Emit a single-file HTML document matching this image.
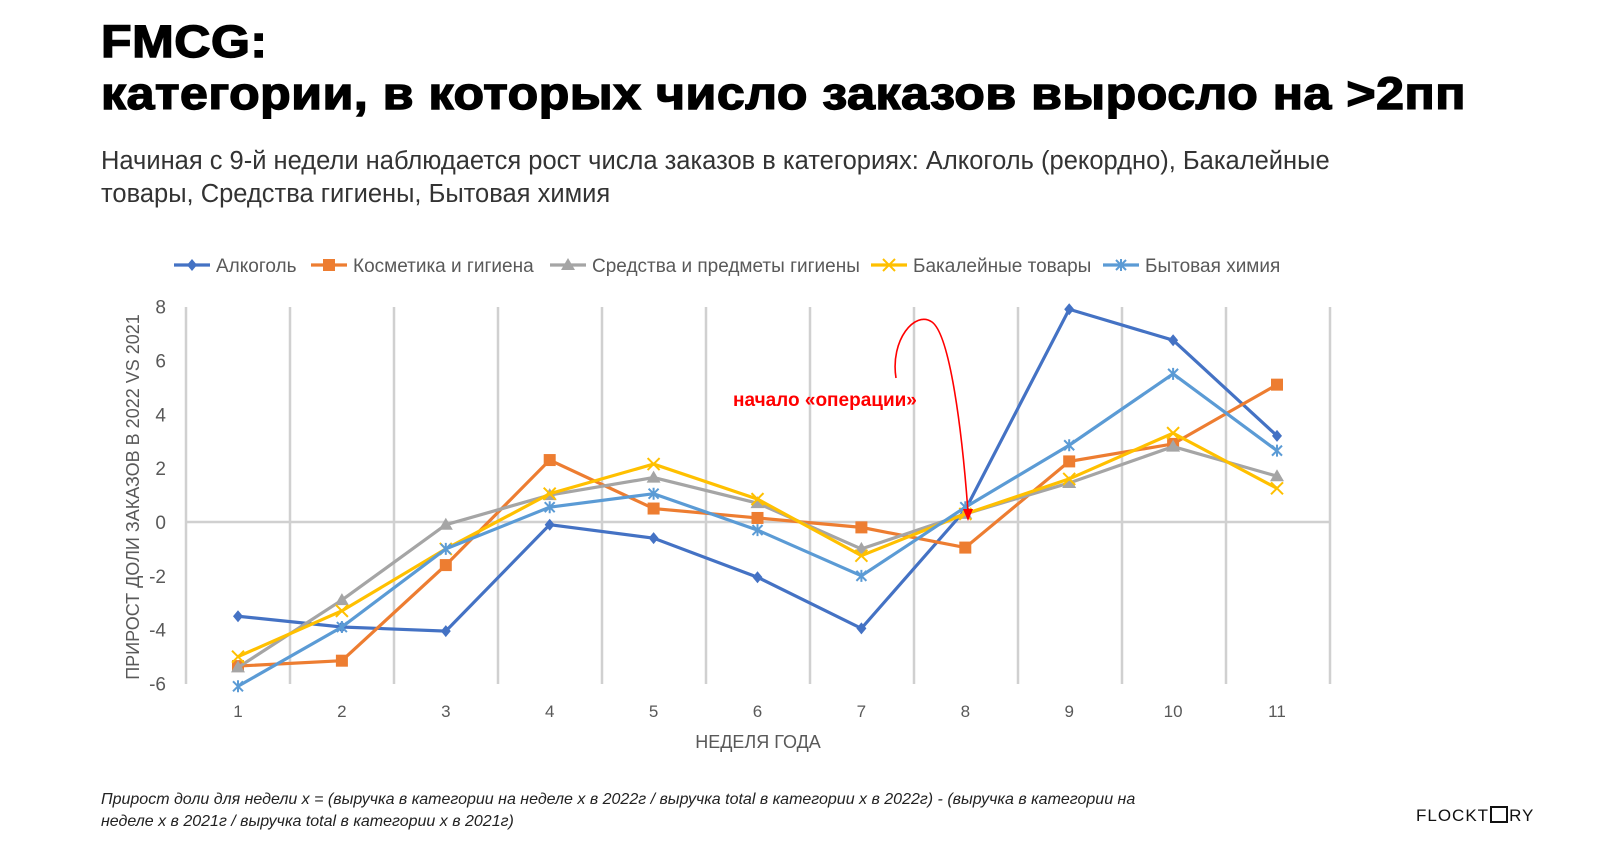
<!DOCTYPE html>
<html><head><meta charset="utf-8"><style>
body{margin:0;width:1600px;height:863px;background:#fff;font-family:"Liberation Sans","Noto Sans CJK SC",sans-serif;overflow:hidden;position:relative}
.t{position:absolute;left:101px;font-weight:900;font-size:45px;color:#000;letter-spacing:0.5px;-webkit-text-stroke:1.4px #000;white-space:nowrap;transform-origin:0 0}
.sub{position:absolute;left:101px;top:145px;font-size:25.5px;color:#333;line-height:33px;width:1240px}
.foot{position:absolute;left:101px;top:789px;font-size:16px;font-style:italic;color:#222;line-height:22px;width:1085px}
.logo{position:absolute;left:1416px;top:806px;font-size:17px;letter-spacing:1px;color:#111}
</style></head><body>
<div class="t" id="t1" style="top:16px">FMCG:</div>
<div class="t" id="t2" style="top:68px">категории, в которых число заказов выросло на &gt;2пп</div>
<div class="sub">Начиная с 9-й недели наблюдается рост числа заказов в категориях: Алкоголь (рекордно), Бакалейные товары, Средства гигиены, Бытовая химия</div>
<svg id="s" width="1600" height="863" style="position:absolute;left:0;top:0" font-family="Liberation Sans, sans-serif"></svg>
<div class="foot">Прирост доли для недели x = (выручка в категории на неделе x в 2022г / выручка total в категории x в 2022г) - (выручка в категории на неделе x в 2021г / выручка total в категории x в 2021г)</div>
<div class="logo">FLOCKT<span style="display:inline-block;width:14px;height:13px;border:2px solid #111;vertical-align:-2px;margin:0 1px"></span>RY</div>
<script>
const t2=document.getElementById('t2'),t1=document.getElementById('t1');
const k=1365/t2.getBoundingClientRect().width;
t2.style.transform=`scaleX(${k})`;t1.style.transform=`scaleX(${k})`;
const s=document.getElementById('s');let h='';
const Y=v=>522-v*26.93,X=i=>238+i*103.9;
for(let i=0;i<12;i++){let x=186+i*104;h+=`<line x1="${x}" y1="307" x2="${x}" y2="684" stroke="#d0d0d0" stroke-width="2.5"/>`;}
h+=`<line x1="186" y1="522" x2="1330" y2="522" stroke="#d0d0d0" stroke-width="2.5"/>`;
[8,6,4,2,0,-2,-4,-6].forEach(v=>h+=`<text x="166" y="${Y(v)+7}" text-anchor="end" font-size="19" fill="#595959">${v}</text>`);
for(let i=0;i<11;i++)h+=`<text x="${X(i)}" y="717" text-anchor="middle" font-size="17" fill="#595959">${i+1}</text>`;
h+=`<text x="758" y="748" text-anchor="middle" font-size="18" fill="#595959">НЕДЕЛЯ ГОДА</text>`;
h+=`<text transform="translate(139,497) rotate(-90)" text-anchor="middle" font-size="18" fill="#595959">ПРИРОСТ ДОЛИ ЗАКАЗОВ В 2022 VS 2021</text>`;
const S=[
['#4472c4','d',[-3.5,-3.9,-4.05,-0.1,-0.6,-2.05,-3.95,0.45,7.9,6.75,3.2]],
['#ed7d31','s',[-5.35,-5.15,-1.6,2.3,0.5,0.15,-0.2,-0.95,2.25,2.9,5.1]],
['#a5a5a5','t',[-5.4,-2.9,-0.1,1.0,1.65,0.7,-1.0,0.3,1.45,2.8,1.7]],
['#ffc000','x',[-5.0,-3.3,-1.0,1.05,2.15,0.85,-1.25,0.3,1.6,3.3,1.25]],
['#5b9bd5','a',[-6.1,-3.9,-1.0,0.55,1.05,-0.3,-2.0,0.55,2.85,5.5,2.65]]];
function mk(t,x,y,c){
 if(t=='d')return `<polygon points="${x},${y-6} ${x+5},${y} ${x},${y+6} ${x-5},${y}" fill="${c}"/>`;
 if(t=='s')return `<rect x="${x-6}" y="${y-6}" width="12" height="12" fill="${c}"/>`;
 if(t=='t')return `<polygon points="${x},${y-7} ${x+7},${y+5} ${x-7},${y+5}" fill="${c}"/>`;
 if(t=='x')return `<path d="M${x-6} ${y-6}L${x+6} ${y+6}M${x+6} ${y-6}L${x-6} ${y+6}" stroke="${c}" stroke-width="2"/>`;
 return `<path d="M${x-5} ${y-5}L${x+5} ${y+5}M${x+5} ${y-5}L${x-5} ${y+5}M${x} ${y-6}V${y+6}" stroke="${c}" stroke-width="2"/>`;}
S.forEach(([c,t,d])=>{h+=`<polyline fill="none" stroke="${c}" stroke-width="3.2" points="${d.map((v,i)=>X(i)+','+Y(v)).join(' ')}"/>`;d.forEach((v,i)=>h+=mk(t,X(i),Y(v),c));});
const L=[['Алкоголь',174],['Косметика и гигиена',311],['Средства и предметы гигиены',550],['Бакалейные товары',871],['Бытовая химия',1103]];
L.forEach(([n,x],i)=>{h+=`<line x1="${x}" y1="265" x2="${x+36}" y2="265" stroke="${S[i][0]}" stroke-width="3.2"/>`+mk(S[i][1],x+18,265,S[i][0])+`<text x="${x+42}" y="272" font-size="19" fill="#595959">${n}</text>`;});
h+=`<path d="M896 378 C890 340,915 310,932 322 C950 335,962 430,968 512" fill="none" stroke="#f00" stroke-width="1.6"/><polygon points="968,521 963,509 973,509" fill="#f00"/>`;
h+=`<text x="733" y="406" font-size="19" font-weight="bold" fill="#f00">начало «операции»</text>`;
s.innerHTML=h;
</script>
</body></html>
